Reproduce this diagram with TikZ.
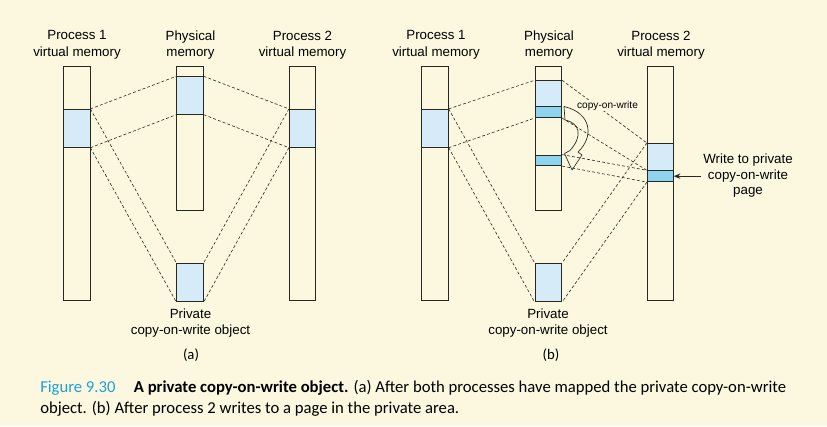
\documentclass[tikz,border=0pt]{standalone}
\usepackage{fontspec}
\setmainfont{Liberation Sans}
\newfontfamily\capfont{Carlito}
\usetikzlibrary{fit,arrows.meta}
\definecolor{bg}{RGB}{251,248,223}
\definecolor{lblue}{RGB}{213,236,248}
\definecolor{dblue}{RGB}{140,212,240}
\definecolor{capblue}{RGB}{30,160,218}
\definecolor{ink}{RGB}{40,40,35}
\tikzset{
  bar/.style={draw=ink, line width=0.6pt, inner sep=0pt, fill=bg},
  page/.style={draw=ink, line width=0.6pt, inner sep=0pt, fill=lblue},
  dpage/.style={draw=ink, line width=0.6pt, inner sep=0pt, fill=dblue},
  map/.style={draw=ink, line width=0.45pt, dash pattern=on 2.2pt off 1.6pt},
  lbl/.style={align=center, font=\fontsize{10}{12.4}\selectfont, inner sep=0pt},
  sub/.style={font=\capfont\fontsize{11}{12}\selectfont, inner sep=0pt},
}
\begin{document}
\begin{tikzpicture}[x=0.75pt,y=-0.75pt]
\fill[bg] (0,0) rectangle (827,426);
\useasboundingbox (0,0) rectangle (827,426);

% ---------------- panel (a)
\node[bar, fit={(63.3,66.7) (90,300)}] (p1a) {};
\node[page, fit={(63.3,109.3) (90,147.3)}] (p1ab) {};
\node[bar, fit={(176.7,66.7) (203.3,210)}] (pha) {};
\node[page, fit={(176.7,76.7) (203.3,114.3)}] (phab) {};
\node[bar, fit={(289.3,66.7) (315.3,300)}] (p2a) {};
\node[page, fit={(289.3,109.3) (315.3,147.3)}] (p2ab) {};
\node[page, fit={(176.7,263.3) (203.3,301.7)}] (obja) {};

\draw[map] (p1ab.north east) -- (phab.north west);
\draw[map] (p1ab.south east) -- (phab.south west);
\draw[map] (phab.north east) -- (p2ab.north west);
\draw[map] (phab.south east) -- (p2ab.south west);
\draw[map] (p1ab.north east) -- (obja.north west);
\draw[map] (p1ab.south east) -- (obja.south west);
\draw[map] (p2ab.north west) -- (obja.north east);
\draw[map] (p2ab.south west) -- (obja.south east);

\node[lbl] (t1a) at (77,45) {Process 1\\virtual memory};
\node[lbl] (t2a) at (190.5,45) {Physical\\memory};
\node[lbl] (t3a) at (302.5,45) {Process 2\\virtual memory};
\node[lbl] (t4a) at (190.5,323) {Private\\copy-on-write object};
\node[sub] (capa) at (191,355) {(a)};

% ---------------- panel (b)
\node[bar, fit={(421.7,66.7) (448.3,300)}] (p1b) {};
\node[page, fit={(421.7,109.3) (448.3,147.3)}] (p1bb) {};
\node[bar, fit={(535,66.7) (561.7,210)}] (phb) {};
\node[page, fit={(535,80.7) (561.7,106.7)}] (phbl) {};
\node[dpage, fit={(535,106.7) (561.7,117.7)}] (phbd) {};
\node[dpage, fit={(535,155) (561.7,165.7)}] (phbn) {};
\node[bar, fit={(647.3,66.7) (673.3,300)}] (p2b) {};
\node[page, fit={(647.3,143.3) (673.3,170.7)}] (p2bl) {};
\node[dpage, fit={(647.3,170.7) (673.3,181.7)}] (p2bd) {};
\node[page, fit={(535,263.3) (561.7,301.7)}] (objb) {};

\draw[map] (p1bb.north east) -- (phbl.north west);
\draw[map] (p1bb.south east) -- (phbd.south west);
\draw[map] (p1bb.north east) -- (objb.north west);
\draw[map] (p1bb.south east) -- (objb.south west);
\draw[map] (phbl.north east) -- (p2bl.north west);
\draw[map] (phbd.south east) -- (p2bd.north west);
\draw[map] (phbn.north east) -- (p2bd.north west);
\draw[map] (phbn.south east) -- (p2bd.south west);
\draw[map] (p2bl.north west) -- (objb.north east);
\draw[map] (p2bd.south west) -- (objb.south east);

% curved copy-on-write arrow
\draw[ink, line width=0.5pt, line join=round]
  (564,106.5) .. controls (592,113) and (594,137) .. (578,152)
  -- (582,155) -- (572,170) -- (564.5,153.5) -- (570,150.5)
  .. controls (583,136) and (580,123) .. (565,120) -- cycle;
\node[fill=bg, inner sep=0.6pt, font=\fontsize{7.6}{9}\selectfont] (cow) at (607.5,105.5) {copy-on-write};

\node[lbl] (t1b) at (436,45) {Process 1\\virtual memory};
\node[lbl] (t2b) at (549,45) {Physical\\memory};
\node[lbl] (t3b) at (661,45) {Process 2\\virtual memory};
\node[lbl] (t4b) at (548,323) {Private\\copy-on-write object};
\node[lbl, font=\fontsize{10}{11.6}\selectfont] (wr) at (748,176) {Write to private\\copy-on-write\\page};
\coordinate (wrs) at (700.5,176.2);
\draw[ink, line width=0.6pt, -{Stealth[length=5pt,width=4pt]}] (wrs) -- (p2bd.east);
\node[sub] (capb) at (551,355) {(b)};

% ---------------- caption
\node[anchor=base west, inner sep=0pt, font=\capfont\fontsize{12.5}{14}\selectfont] (cap1) at (40,392)
  {\textcolor{capblue}{Figure 9.30}\hspace{1.1em}\textbf{A private copy-on-write object.} (a) After both processes have mapped the private copy-on-write};
\node[anchor=base west, inner sep=0pt, font=\capfont\fontsize{12.5}{14}\selectfont] (cap2) at (40,413)
  {object. (b) After process 2 writes to a page in the private area.};
\end{tikzpicture}
\end{document}
